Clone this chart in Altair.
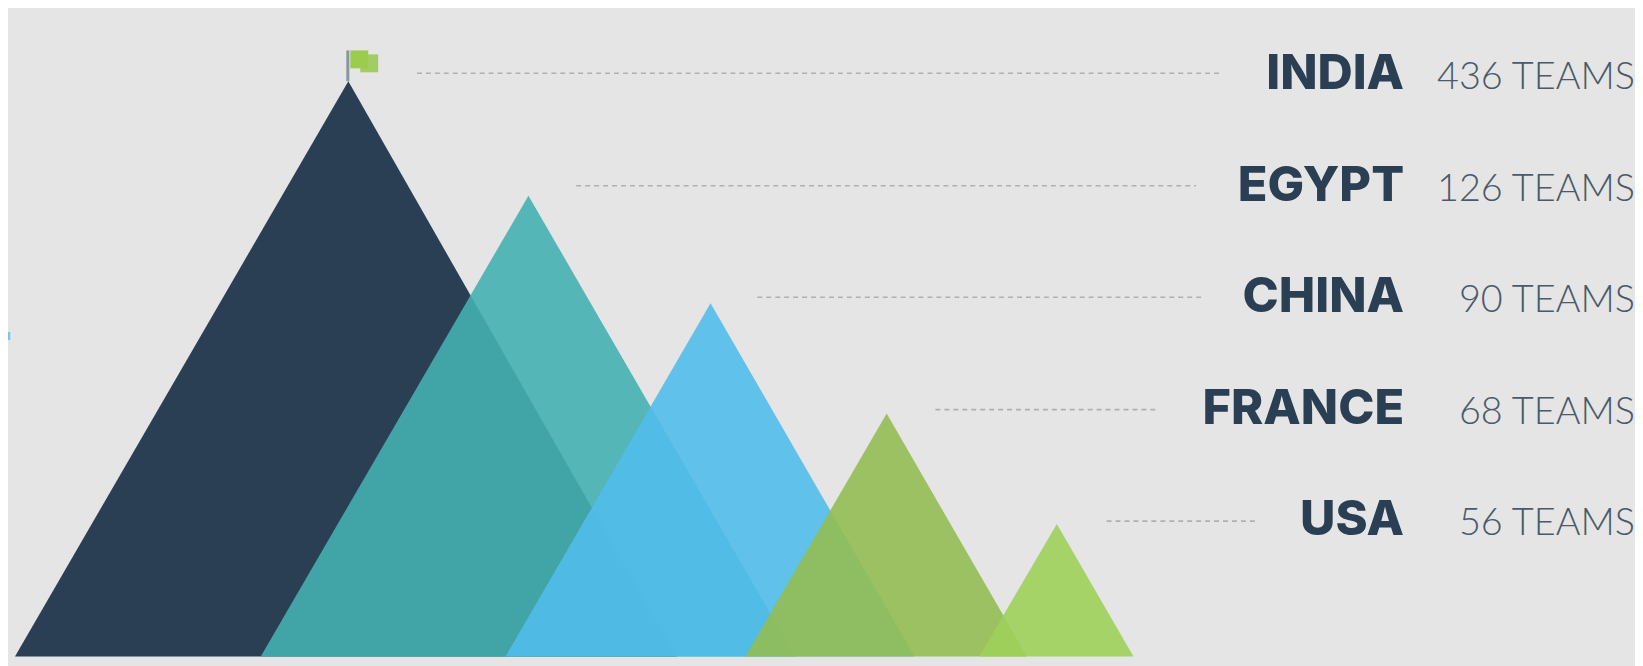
import altair as alt
import pandas as pd

countries = ["INDIA", "EGYPT", "CHINA", "FRANCE", "USA"]
teams = ["436 TEAMS", "126 TEAMS", "90 TEAMS", "68 TEAMS", "56 TEAMS"]
base_left = [7, 254, 500, 741, 976]
apex_x = [342, 523, 706, 883, 1054]
base_right = [672, 791, 911, 1024, 1131]
base_level = -1
peak = [577, 462, 354, 243, 132]
colors = ["#2a3f54", "#44b0b1", "#51bdea", "#93bd53", "#9ed05a"]
alphas = [1, 0.9, 0.9, 0.9, 0.9]
line_start = [411, 571, 753, 932, 1104]
line_end = [1217, 1194, 1202, 1156, 1253]
line_level = [585, 472, 360, 247, 135]
label_level = [569, 457, 345, 233, 121]
team_level = [569, 457, 345, 233, 121]
flag_pole_x = [341.5]
flag_pole = [577, 608]
flag_back = [354, 372, 586, 604]
flag_front = [344, 362, 590, 608]
edge_tick = [1, 325, 317]

X = alt.Scale(domain=[0, 1635], range=[0, 1635])
Y = alt.Scale(domain=[-9, 649], range=[658, 0])
xa = lambda f: alt.X(f, type="quantitative", scale=X, axis=None)
ya = lambda f: alt.Y(f, type="quantitative", scale=Y, axis=None)

layers = []
for i in range(5):
    tri = pd.DataFrame({"x": [base_left[i], apex_x[i], base_right[i]],
                        "y": [base_level, peak[i], base_level], "z": [base_level] * 3})
    layers.append(alt.Chart(tri).mark_area(color=colors[i], opacity=alphas[i], line=False)
                  .encode(x=xa("x"), y=ya("y"), y2="z:Q"))

tick = pd.DataFrame({"x": [edge_tick[0]], "a": [edge_tick[1]], "b": [edge_tick[2]]})
layers.append(alt.Chart(tick).mark_rule(color="#7cc4e8", strokeWidth=2.5)
              .encode(x=xa("x"), y=ya("a"), y2="b:Q"))
pole = pd.DataFrame({"x": flag_pole_x, "a": [flag_pole[0]], "b": [flag_pole[1]]})
layers.append(alt.Chart(pole).mark_rule(color="#8796a3", strokeWidth=3)
              .encode(x=xa("x"), y=ya("a"), y2="b:Q"))
fb = pd.DataFrame({"a": [flag_back[0]], "b": [flag_back[1]], "c": [flag_back[2]], "d": [flag_back[3]]})
layers.append(alt.Chart(fb).mark_rect(color="#a3cb66")
              .encode(x=xa("a"), x2="b:Q", y=ya("c"), y2="d:Q"))
ff = pd.DataFrame({"a": [flag_front[0]], "b": [flag_front[1]], "c": [flag_front[2]], "d": [flag_front[3]]})
layers.append(alt.Chart(ff).mark_rect(color="#9ccc4c")
              .encode(x=xa("a"), x2="b:Q", y=ya("c"), y2="d:Q"))

table = pd.DataFrame({"country": countries, "teams": teams, "s": line_start, "e": line_end,
                      "l": line_level, "cy": label_level, "ty": team_level,
                      "cx": [1396] * 5, "tx": [1627] * 5})
layers.append(alt.Chart(table).mark_rule(color="#b0b0b0", strokeWidth=1.6, strokeDash=[5, 4])
              .encode(x=xa("s"), x2="e:Q", y=ya("l")))
layers.append(alt.Chart(table).mark_text(align="right", baseline="alphabetic", font="Inter",
                                         fontWeight=800, fontSize=49, color="#2a3f54", dx=7)
              .encode(x=xa("cx"), y=ya("cy"), text="country:N"))
layers.append(alt.Chart(table).mark_text(align="right", baseline="alphabetic", font="Lato",
                                         fontWeight=300, fontSize=38, color="#4a5a6a", dx=8)
              .encode(x=xa("tx"), y=ya("ty"), text="teams:N"))

chart = alt.layer(*layers).properties(
    width=1635, height=658, padding=0, background="#e5e5e5",
    autosize=alt.AutoSizeParams(type="none")
).configure_view(stroke=None)

chart.save("out.html", embed_options={"renderer": "svg", "actions": False})
